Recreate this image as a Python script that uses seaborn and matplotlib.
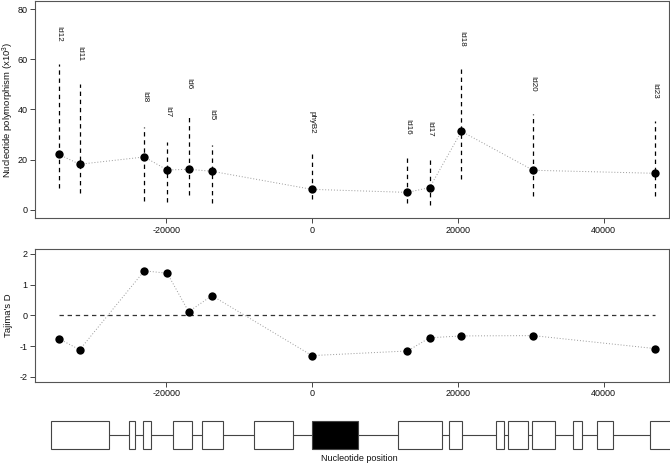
import matplotlib
matplotlib.use("Agg")
import pandas as pd
import matplotlib.pyplot as plt
from matplotlib.patches import Rectangle
import seaborn as sns

# ---------- CONFIG ----------
sns.set_theme(style="white")
plt.rcParams['font.family'] = ['Liberation Sans', 'DejaVu Sans']
plt.rcParams['mathtext.fontset'] = 'custom'
plt.rcParams['mathtext.rm'] = 'Liberation Sans'
plt.rcParams['axes.unicode_minus'] = False

# ---------- DATA ----------
loci = ["Id12", "Id11", "Id8", "Id7", "Id6", "Id5", "phyB2",
        "Id16", "Id17", "Id18", "Id20", "Id23"]
position = [-34730, -31870, -23000, -19850, -16920, -13720, 0,
            13100, 16150, 20500, 30350, 47000]
pi_mean = [22.1, 18.2, 21.1, 15.9, 16.2, 15.4, 8.2, 7.0, 8.9, 31.3, 15.8, 14.6]
pi_low = [8.6, 6.9, 3.6, 3.2, 6.1, 2.7, 4.4, 2.7, 2.1, 12.3, 5.7, 5.6]
pi_high = [58.0, 50.1, 33.0, 27.2, 38.4, 25.8, 22.8, 21.2, 20.2, 56.1, 38.4, 35.3]
tajima_d = [-0.76, -1.12, 1.45, 1.37, 0.12, 0.64, -1.31, -1.16, -0.73, -0.67, -0.66, -1.08]

# gene models along the region (nucleotide coordinates)
gene_start = [-35810, -25150, -23150, -19030, -15050, -7960, 0,
              11840, 18840, 25290, 26850, 30220, 35810, 39140, 46330]
gene_end = [-27810, -24330, -22090, -16420, -12250, -2650, 6350,
            17800, 20540, 26380, 29590, 33340, 37000, 41340, 49200]
focal_gene = 6

df = pd.DataFrame({"pos": position, "pi": pi_mean, "lo": pi_low,
                   "hi": pi_high, "D": tajima_d, "locus": loci})

XLIM = (-38000, 48980)

# ---------- FIGURE ----------
fig = plt.figure(figsize=(6.7, 4.66), dpi=100)
ax1 = fig.add_axes([0.0522, 0.5322, 0.9463, 0.4657])
ax2 = fig.add_axes([0.0522, 0.1809, 0.9463, 0.2848])
ax3 = fig.add_axes([0.0522, 0.0371, 0.9463, 0.0594])


def style_axis(ax):
    for sp in ax.spines.values():
        sp.set_color("#555555")
        sp.set_linewidth(0.8)
    ax.tick_params(bottom=True, left=True, direction="out", length=3.5,
                   width=0.7, color="#444444", labelsize=6.5, pad=2,
                   labelcolor="#111111")
    ax.set_xlim(*XLIM)
    ax.set_xticks([-20000, 0, 20000, 40000])
    ax.set_xlabel("")
    ax.set_ylabel("")


# 1. nucleotide polymorphism
ax1.vlines(df["pos"], df["lo"], df["hi"], colors="black",
           linestyles=(0, (3.5, 3)), linewidth=0.9)
sns.lineplot(data=df, x="pos", y="pi", ax=ax1, sort=False, color="#999999",
             linestyle=(0, (1, 2)), linewidth=0.7)
sns.scatterplot(data=df, x="pos", y="pi", ax=ax1, color="black", s=36,
                edgecolor="black", linewidth=0, zorder=3)
for x, hi, lab in zip(df["pos"], df["hi"], df["locus"]):
    ax1.text(x, hi + 12, lab, rotation=270, ha="center", va="center",
             fontsize=5.8, color="#111111")
style_axis(ax1)
ax1.set_ylim(-3.2, 83.2)
ax1.set_yticks([0, 20, 40, 60, 80])

# 2. Tajima's D
ax2.hlines(0, df["pos"].min(), df["pos"].max(), colors="#333333",
           linestyles=(0, (3.5, 3)), linewidth=0.9)
sns.lineplot(data=df, x="pos", y="D", ax=ax2, sort=False, color="#999999",
             linestyle=(0, (1, 2)), linewidth=0.7)
sns.scatterplot(data=df, x="pos", y="D", ax=ax2, color="black", s=36,
                edgecolor="black", linewidth=0, zorder=3)
style_axis(ax2)
ax2.set_ylim(-2.16, 2.16)
ax2.set_yticks([-2, -1, 0, 1, 2])

# axis titles
fig.text(0.013, 0.765, "Nucleotide polymorphism (x10$^{3}$)", rotation=90,
         ha="center", va="center", fontsize=6.8, color="#111111")
fig.text(0.013, 0.323, "Tajima's D", rotation=90,
         ha="center", va="center", fontsize=6.8, color="#111111")

# 3. gene map
ax3.hlines(0.5, gene_start[0], gene_end[-1], colors="#444444", linewidth=0.8)
for i, (s, e) in enumerate(zip(gene_start, gene_end)):
    face = "black" if i == focal_gene else "white"
    ax3.add_patch(Rectangle((s, 0), e - s, 1, facecolor=face,
                            edgecolor="#444444", linewidth=0.8, clip_on=False,
                            zorder=2))
ax3.set_xlim(*XLIM)
ax3.set_ylim(0, 1)
ax3.axis("off")
fig.text(0.536, 0.017, "Nucleotide position", ha="center", va="center",
         fontsize=6.5, color="#111111")

fig.savefig("out.png", dpi=100)
